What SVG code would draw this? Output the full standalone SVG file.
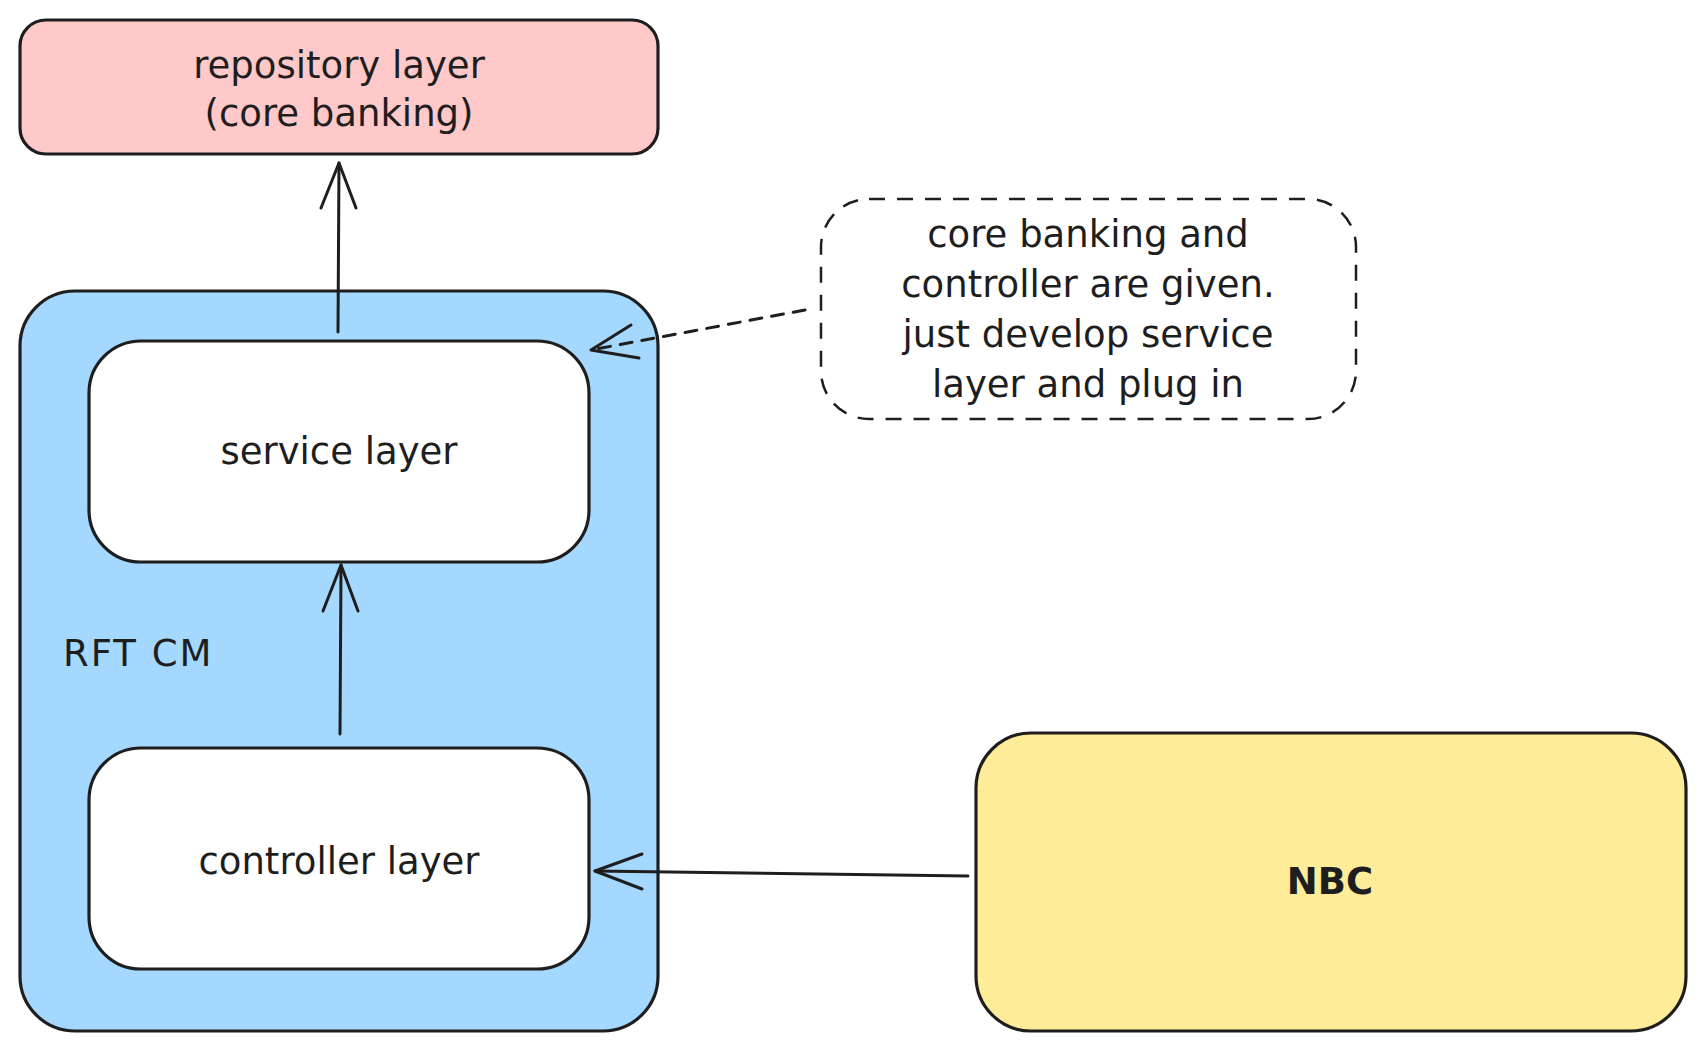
<svg xmlns="http://www.w3.org/2000/svg" width="1706" height="1051" viewBox="0 0 1706 1051">
<style>
.box{stroke:#1e1e1e;stroke-width:3.2;}
.t{font-family:"DejaVu Sans",sans-serif;font-size:37px;fill:#1e1e1e;text-anchor:middle;}
.c{stroke:#1e1e1e;stroke-width:3;fill:none;stroke-linecap:round;stroke-linejoin:round;}
</style>
<rect width="1706" height="1051" fill="#ffffff"/>
<g id="repository">
<rect class="box" x="20" y="20" width="638" height="134" rx="26" fill="#ffc9c9"/>
<text class="t" x="339" y="78">repository layer</text>
<text class="t" x="339" y="126">(core banking)</text>
</g>
<g id="rft-cm">
<rect class="box" x="20" y="291" width="638" height="740" rx="55" fill="#a5d8ff"/>
<text class="t" x="63" y="666" style="text-anchor:start;letter-spacing:2px">RFT CM</text>
</g>
<g id="service">
<rect class="box" x="89" y="341" width="500" height="221" rx="52" fill="#ffffff"/>
<text class="t" x="339" y="464">service layer</text>
</g>
<g id="controller">
<rect class="box" x="89" y="748" width="500" height="221" rx="52" fill="#ffffff"/>
<text class="t" x="339" y="874">controller layer</text>
</g>
<g id="nbc">
<rect class="box" x="976" y="733" width="710" height="298" rx="55" fill="#ffec99"/>
<text class="t" x="1330" y="894" style="font-weight:bold">NBC</text>
</g>
<g id="note">
<rect x="821" y="199" width="535" height="220" rx="48" fill="none" stroke="#1e1e1e" stroke-width="2.5" stroke-dasharray="16 12"/>
<text class="t" x="1088" y="247">core banking and</text>
<text class="t" x="1088" y="297">controller are given.</text>
<text class="t" x="1088" y="347">just develop service</text>
<text class="t" x="1088" y="397">layer and plug in</text>
</g>
<g id="connectors">
<path class="c" d="M338 332 L339 163"/>
<path class="c" d="M321 208 L339 163 L356 208"/>
<path class="c" d="M340 734 L341 565"/>
<path class="c" d="M323 611 L341 565 L358 611"/>
<path class="c" d="M968 876 L595 871"/>
<path class="c" d="M642 854 L595 871 L642 889"/>
<path class="c" d="M805 310 L591 350" stroke-dasharray="12 10" stroke-width="2.5"/>
<path class="c" d="M631 325 L591 350 L639 358" stroke-width="2.5"/>
</g>
</svg>
